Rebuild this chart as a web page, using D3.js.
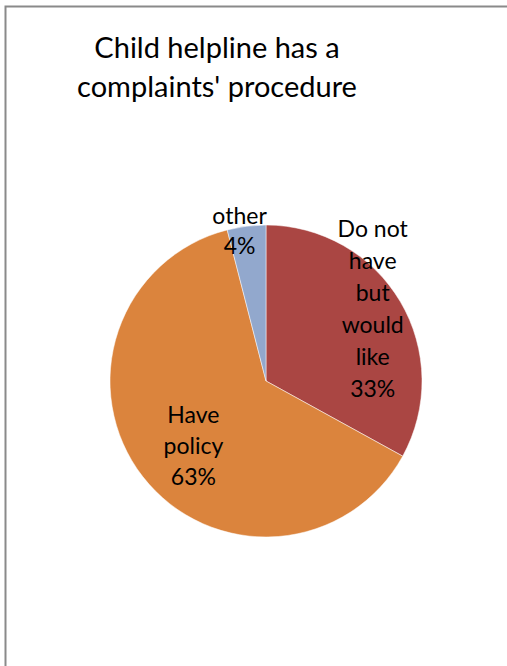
<!DOCTYPE html>
<html>
<head>
<meta charset="utf-8">
<script src="https://cdn.jsdelivr.net/npm/d3@7"></script>
<style>
  html, body { margin: 0; padding: 0; background: #fff; }
  svg { display: block; }
</style>
</head>
<body>
<div id="chart"></div>
<script>
// chart data
const categories = ["Do not have but would like", "Have policy", "other"];
const values = [33, 63, 4];
const labelLines = [
    ["Do not", "have", "but", "would", "like", "33%"],
    ["Have", "policy", "63%"],
    ["other", "4%"]
];
const colors = ["#AA4643", "#DB843D", "#92A8CD"];
const titleLines = ["Child helpline has a", "complaints' procedure"];

const width = 507, height = 666;
const cx = 266, cy = 381, radius = 156;

const svg = d3.select("#chart")
    .append("svg")
    .attr("width", width)
    .attr("height", height);

// outer chart border (runs past the right and bottom edge)
svg.append("rect")
    .attr("x", 5.5)
    .attr("y", 6.5)
    .attr("width", width + 10)
    .attr("height", height + 10)
    .attr("fill", "#fff")
    .attr("stroke", "#8a8a8a")
    .attr("stroke-width", 2);

// title
svg.append("text")
    .attr("x", 217)
    .attr("y", 58)
    .attr("text-anchor", "middle")
    .attr("font-family", "Lato, 'Open Sans', sans-serif")
    .attr("font-size", "29px")
    .attr("fill", "#000")
    .selectAll("tspan")
    .data(titleLines)
    .enter().append("tspan")
    .attr("x", 217)
    .attr("dy", (d, i) => i === 0 ? 0 : 39)
    .text(d => d);

const data = categories.map((c, i) => ({ category: c, value: values[i], lines: labelLines[i], color: colors[i] }));

const pie = d3.pie()
    .sort(null)
    .value(d => d.value);

const arc = d3.arc()
    .innerRadius(0)
    .outerRadius(radius);

const g = svg.append("g")
    .attr("transform", `translate(${cx},${cy})`);

const arcs = pie(data);

g.selectAll(".slice")
    .data(arcs)
    .enter().append("path")
    .attr("class", "slice")
    .attr("d", arc)
    .attr("fill", d => d.data.color)
    .attr("stroke", "#fff")
    .attr("stroke-width", 0.5);

// label placement: radius factor and small angle nudge per slice
const labelRadius = [0.82, 0.63, 0.97];
const labelAngleShift = [-0.05, -0.08, -0.05];
const lineHeight = [32, 31, 30];

g.selectAll(".label")
    .data(arcs)
    .enter().append("text")
    .attr("class", "label")
    .attr("text-anchor", "middle")
    .attr("font-family", "Lato, 'Open Sans', sans-serif")
    .attr("font-size", "23px")
    .attr("fill", "#000")
    .each(function(d, i) {
        const mid = (d.startAngle + d.endAngle) / 2 + labelAngleShift[i];
        const r = radius * labelRadius[i];
        const x = Math.sin(mid) * r;
        const y = -Math.cos(mid) * r;
        const lh = lineHeight[i];
        const n = d.data.lines.length;
        const top = y - (n - 1) * lh / 2 + 7;
        d3.select(this).selectAll("tspan")
            .data(d.data.lines)
            .enter().append("tspan")
            .attr("x", x)
            .attr("y", (t, j) => top + j * lh)
            .text(t => t);
    });
</script>
</body>
</html>
